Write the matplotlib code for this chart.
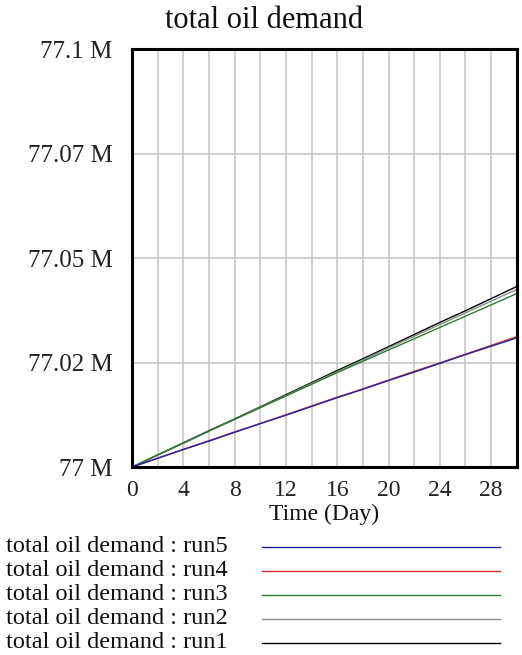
import matplotlib.pyplot as plt
from matplotlib.lines import Line2D

# simulation output, total oil demand in millions
days = [0, 2, 4, 6, 8, 10, 12, 14, 16, 18, 20, 22, 24, 26, 28, 30]
run1 = [77.0000, 77.0029, 77.0058, 77.0087, 77.0115, 77.0144, 77.0173, 77.0202,
        77.0231, 77.0259, 77.0288, 77.0317, 77.0346, 77.0374, 77.0403, 77.0432]
run2 = [77.0000, 77.0029, 77.0057, 77.0086, 77.0114, 77.0143, 77.0171, 77.0200,
        77.0228, 77.0256, 77.0285, 77.0313, 77.0341, 77.0369, 77.0397, 77.0425]
run3 = [77.0000, 77.0029, 77.0057, 77.0086, 77.0114, 77.0142, 77.0170, 77.0198,
        77.0226, 77.0253, 77.0280, 77.0307, 77.0334, 77.0361, 77.0388, 77.0415]
run4 = [77.0000, 77.0021, 77.0042, 77.0063, 77.0084, 77.0104, 77.0125, 77.0146,
        77.0167, 77.0187, 77.0208, 77.0229, 77.0249, 77.0270, 77.0291, 77.0312]
run5 = [77.0000, 77.0021, 77.0042, 77.0062, 77.0083, 77.0104, 77.0124, 77.0145,
        77.0166, 77.0186, 77.0207, 77.0227, 77.0248, 77.0269, 77.0289, 77.0309]

y_ticks = [77.0, 77.025, 77.05, 77.075, 77.1]
y_labels = ["77 M", "77.02 M", "77.05 M", "77.07 M", "77.1 M"]
x_ticks = [0, 4, 8, 12, 16, 20, 24, 28]

runs = [("run1", run1, "black"), ("run2", run2, "#8c8c8c"),
        ("run3", run3, "#2e7d32"), ("run4", run4, "#d03030"),
        ("run5", run5, "#22229a")]

plt.rcParams['font.family'] = ['Liberation Serif', 'DejaVu Serif']

fig = plt.figure(figsize=(5.22, 6.55), dpi=100)
ax = fig.add_axes([0.253, 0.287, 0.737, 0.638])

for name, vals, col in runs:
    ax.plot(days, vals, color=col, lw=1.0)

ax.set_xlim(0, 30)
ax.set_ylim(77.0, 77.1)
ax.set_xticks(x_ticks)
ax.set_xticks(range(0, 31, 2), minor=True)
ax.set_yticks(y_ticks)
ax.set_yticklabels(y_labels)
ax.tick_params(axis='both', which='both', length=0, colors='#222222')
ax.tick_params(axis='y', labelsize=18, pad=14)
ax.tick_params(axis='x', labelsize=17, pad=9)
ax.grid(True, which='both', axis='x', color='#c8c8c8', lw=1.2)
ax.grid(True, which='major', axis='y', color='#c8c8c8', lw=1.2)
ax.set_axisbelow(True)
for sp in ax.spines.values():
    sp.set_linewidth(2.2)
    sp.set_color('black')

fig.text(0.505, 1 - 28 / 655, "total oil demand", fontsize=22, ha='center',
         va='baseline', color='#111111')
ax.set_xlabel("Time (Day)", fontsize=17, color='#111111')
ax.xaxis.set_label_coords(0.5, -0.087)

# key below the chart: label on the left, line sample on the right
row_top = 1 - 547 / 655
row_step = 24 / 655
for i, (name, vals, col) in enumerate(runs[::-1]):
    y = row_top - i * row_step
    fig.text(0.012, y, "total oil demand : " + name, fontsize=17.5,
             ha='left', va='center', color='#111111')
    fig.add_artist(Line2D([0.502, 0.958], [y, y], color=col, lw=1.0,
                          transform=fig.transFigure))

fig.savefig("out.png", dpi=100)
